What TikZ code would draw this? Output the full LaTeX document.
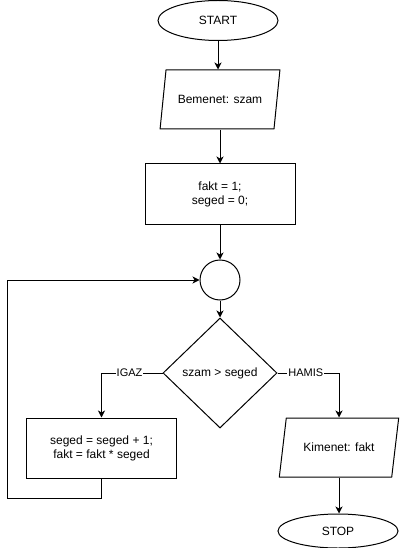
\documentclass[tikz,border=0pt]{standalone}
\usepackage{fontspec}
\setmainfont{Liberation Sans}
\usetikzlibrary{shapes.geometric, arrows.meta, positioning}

\begin{document}
\begin{tikzpicture}[
    x=1pt, y=1pt,
    every node/.style={font=\fontsize{12}{14}\selectfont},
    terminal/.style={ellipse, draw, line width=1pt, minimum width=120pt, minimum height=40pt},
    io/.style={trapezium, draw, line width=1pt, trapezium left angle=71.6, trapezium right angle=108.4, trapezium stretches=true, minimum width=120pt, minimum height=59pt},
    process/.style={rectangle, draw, line width=1pt, align=center, minimum width=150pt, minimum height=60pt},
    joint/.style={circle, draw, line width=1pt, minimum size=40pt, inner sep=0pt},
    decision/.style={diamond, draw, line width=1pt, minimum width=114pt, minimum height=110pt, inner sep=1pt},
    lbl/.style={fill=white, inner sep=1pt, font=\fontsize{11}{13}\selectfont},
    arr/.style={-{Stealth[length=7pt, width=7pt, inset=2pt]}, line width=1pt}
]
\useasboundingbox (0,0) rectangle (400,-548);

% Main column
\node[terminal] (start) at (218,-20.5) {START};
\node[io] (bemenet) at (220,-99.5) {Bemenet: szam};
\node[process] (init) at (220,-194) {fakt = 1;\\seged = 0;};
\node[joint] (join) at (220,-280) {};
\node[decision] (cond) at (220,-373) {szam > seged};

% Branches
\node[process] (incr) at (101.5,-448) {seged = seged + 1;\\fakt = fakt * seged};
\node[io] (kimenet) at (339,-447.5) {Kimenet: fakt};
\node[terminal, minimum height=34pt] (stop) at (338,-531) {STOP};

\coordinate (loopbl) at (7.5,-498);

% Arrows
\draw[arr] (start.south) -- (start.south |- bemenet.north);
\draw[arr] (bemenet) -- (init);
\draw[arr] (init) -- (join);
\draw[arr] (join) -- (cond);
\draw[arr] (cond.west) -| node[lbl, pos=0.27] {IGAZ} (incr.north);
\draw[arr] (cond.east) -| node[lbl, pos=0.23] {HAMIS} (kimenet.north);
\draw[arr] (kimenet.south) -- (kimenet.south |- stop.north);
\draw[arr] (incr.south) |- (loopbl) |- (join.west);

\end{tikzpicture}
\end{document}
